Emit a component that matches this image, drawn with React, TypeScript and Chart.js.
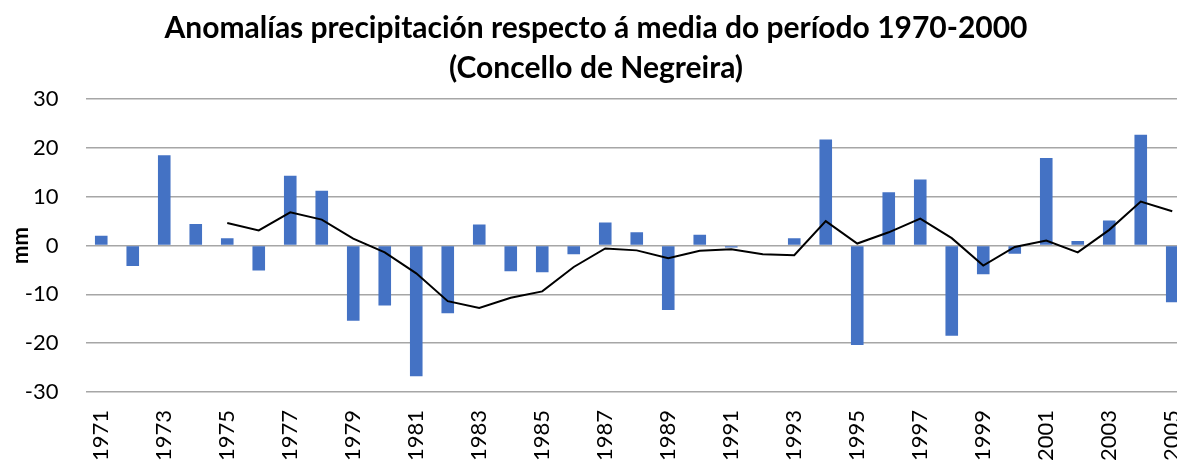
import React, { useEffect, useRef } from "react";
import { Chart, registerables } from "chart.js";

Chart.register(...registerables);

const years = [
  "1971", "1972", "1973", "1974", "1975", "1976", "1977", "1978", "1979", "1980",
  "1981", "1982", "1983", "1984", "1985", "1986", "1987", "1988", "1989", "1990",
  "1991", "1992", "1993", "1994", "1995", "1996", "1997", "1998", "1999", "2000",
  "2001", "2002", "2003", "2004", "2005",
];

const anomalies = [
  2.0, -4.2, 18.5, 4.4, 1.5, -5.1, 14.3, 11.2, -15.4, -12.3,
  -26.8, -13.9, 4.3, -5.3, -5.5, -1.8, 4.7, 2.7, -13.2, 2.2,
  -0.4, 0.0, 1.5, 21.7, -20.4, 10.9, 13.5, -18.5, -5.9, -1.7,
  17.9, 0.9, 5.1, 22.7, -11.6,
];

const movingAverage = [
  null, null, null, null, 4.6, 3.1, 6.8, 5.3, 1.4, -1.4,
  -5.7, -11.4, -12.8, -10.7, -9.4, -4.4, -0.6, -1.0, -2.6, -1.1,
  -0.75, -1.8, -2.0, 5.0, 0.4, 2.7, 5.5, 1.5, -4.1, -0.3,
  1.0, -1.4, 3.2, 9.0, 7.0,
];

const yTicks = [-30, -20, -10, 0, 10, 20, 30];

const titleLines = [
  "Anomalías precipitación respecto á media do período 1970-2000",
  "(Concello de Negreira)",
];

const FONT = "Lato, 'Open Sans', sans-serif";

export default function App() {
  const canvasRef = useRef<HTMLCanvasElement | null>(null);

  useEffect(() => {
    const canvas = canvasRef.current;
    if (!canvas) return;
    const chart = new Chart(canvas, {
      type: "bar",
      data: {
        labels: years,
        datasets: [
          {
            type: "line",
            label: "Media móbil",
            data: movingAverage,
            borderColor: "#000000",
            borderWidth: 2,
            pointRadius: 0,
            tension: 0,
            fill: false,
            order: 0,
          },
          {
            type: "bar",
            label: "Anomalía",
            data: anomalies,
            backgroundColor: "#4472C4",
            borderWidth: 0,
            barPercentage: 0.4,
            categoryPercentage: 1,
            order: 1,
          },
        ],
      },
      options: {
        responsive: false,
        animation: false,
        layout: { padding: { left: 4, right: 10, top: 0, bottom: 0 } },
        plugins: {
          legend: { display: false },
          tooltip: { enabled: false },
          title: {
            display: true,
            text: titleLines,
            color: "#000000",
            font: { family: FONT, size: 30, weight: "bold", lineHeight: 1.333 },
            padding: { top: 8, bottom: 11 },
          },
        },
        scales: {
          x: {
            grid: { display: false, drawTicks: false },
            border: { display: false },
            ticks: {
              autoSkip: false,
              minRotation: 90,
              maxRotation: 90,
              padding: 18,
              color: "#000000",
              font: { family: FONT, size: 22 },
              callback: (_v: any, i: number) => (i % 2 === 0 ? years[i] : ""),
            },
            afterFit: (s: any) => {
              s.height = 70;
              s.paddingLeft = 0;
              s.paddingRight = 0;
            },
          },
          y: {
            min: -30,
            max: 30,
            afterBuildTicks: (s: any) => {
              s.ticks = yTicks.map((v) => ({ value: v }));
            },
            grid: { color: "#a6a6a6", lineWidth: 1.5, drawTicks: false },
            border: { display: false },
            ticks: {
              padding: 27,
              color: "#000000",
              font: { family: FONT, size: 22 },
            },
            title: {
              display: true,
              text: "mm",
              color: "#000000",
              font: { family: FONT, size: 22, weight: "bold" },
              padding: 4,
            },
            afterFit: (s: any) => {
              s.width = 81.5;
            },
          },
        },
      },
    });
    return () => chart.destroy();
  }, []);

  return (
    <div style={{ position: "absolute", left: 0, top: 0, width: 1198, height: 462 }}>
      <canvas ref={canvasRef} width={1198} height={462} />
    </div>
  );
}
